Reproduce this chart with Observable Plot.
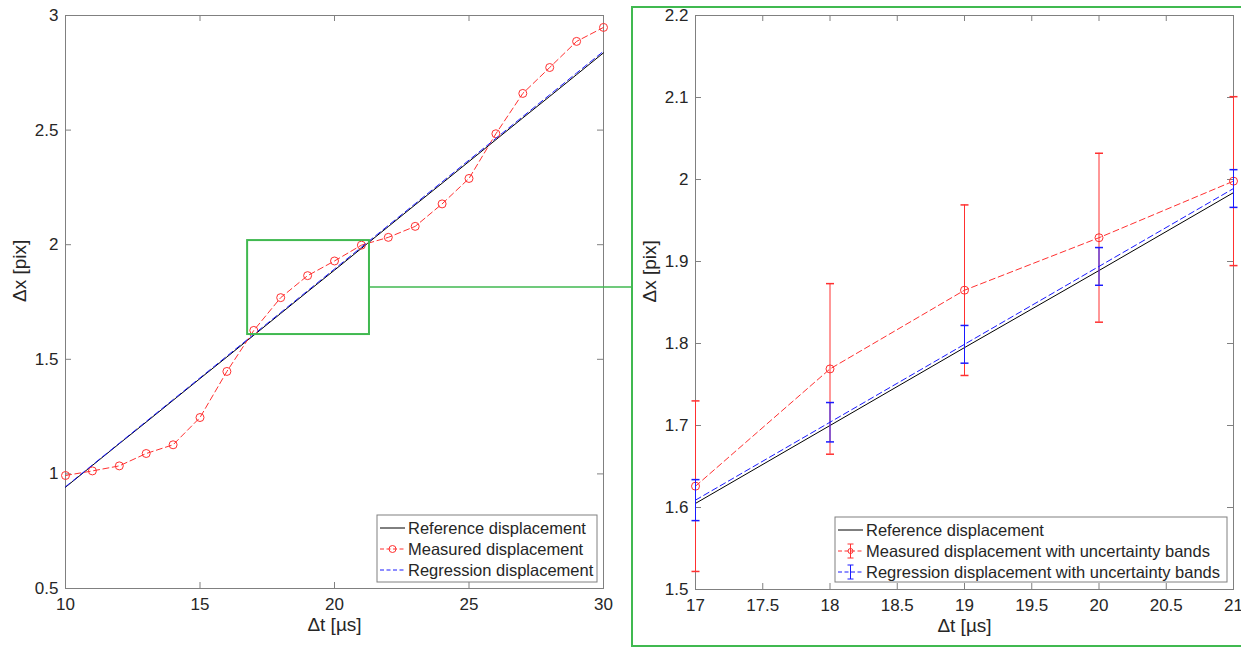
<!DOCTYPE html>
<html><head><meta charset="utf-8">
<script src="https://cdn.jsdelivr.net/npm/d3@7"></script>
<script src="https://cdn.jsdelivr.net/npm/@observablehq/plot@0.6"></script>
<style>
body{margin:0;background:#fff;width:1241px;height:647px;overflow:hidden;position:relative;font-family:"Liberation Sans",Arial,sans-serif;}
#left{position:absolute;left:0;top:0;}
#right{position:absolute;left:631px;top:6px;border:2px solid #40b950;border-right:none;width:610px;height:637px;}
svg{overflow:visible;}
</style></head><body>
<div id="left"></div><div id="right"></div>
<script>
// ---- data ----
const dt = [10,11,12,13,14,15,16,17,18,19,20,21,22,23,24,25,26,27,28,29,30];
const measured = [0.993,1.013,1.035,1.089,1.127,1.246,1.447,1.626,1.769,1.865,1.929,1.998,2.032,2.080,2.178,2.289,2.484,2.660,2.773,2.887,2.948];
const reference = [0.942,1.037,1.132,1.226,1.321,1.416,1.510,1.605,1.700,1.795,1.889,1.984,2.079,2.174,2.268,2.363,2.458,2.553,2.647,2.742,2.837];
const regression = [0.944,1.039,1.134,1.229,1.324,1.419,1.514,1.609,1.704,1.799,1.894,1.989,2.084,2.179,2.274,2.369,2.464,2.559,2.654,2.749,2.844];

const zoomT = [17,18,19,20,21];
const zoomMeasured = [1.626,1.769,1.865,1.929,1.998];
const zoomMeasuredErr = [0.104,0.104,0.104,0.103,0.103];
const zoomReference = [1.605,1.700,1.795,1.889,1.984];
const zoomRegression = [1.609,1.704,1.799,1.894,1.989];
const zoomRegressionErr = [0.025,0.024,0.023,0.023,0.023];

const leftXTicks = [10,15,20,25,30];
const leftYTicks = [0.5,1,1.5,2,2.5,3];
const rightXTicks = [17,17.5,18,18.5,19,19.5,20,20.5,21];
const rightYTicks = [1.5,1.6,1.7,1.8,1.9,2,2.1,2.2];
const zoomBox = [{x1:16.77, x2:21.3, y1:1.608, y2:2.018}];

const legendLeft = ["Reference displacement","Measured displacement","Regression displacement"];
const legendRight = ["Reference displacement","Measured displacement with uncertainty bands","Regression displacement with uncertainty bands"];

// ---- styles ----
const GREEN = "#40b950", RED = "#ff3030", BLUE = "#1a1aff", AX = "#808080", TXT = "#262626";
const FONT = '"Liberation Sans", Arial, sans-serif';
const DASH = "6,3.5";

const full = dt.map((t,i)=>({t, m: measured[i], r: reference[i], g: regression[i]}));
const zoom = zoomT.map((t,i)=>({t, m: zoomMeasured[i], me: zoomMeasuredErr[i], r: zoomReference[i], g: zoomRegression[i], ge: zoomRegressionErr[i]}));

const capSymbol = {draw(ctx, size){ const r = Math.sqrt(size/Math.PI); ctx.moveTo(-r,0); ctx.lineTo(r,0); }};

function frameMarks(xTicks, yTicks, innerW, innerH) {
  const L = 6;
  return [
    Plot.frame({stroke: AX, strokeWidth: 1}),
    Plot.tickX(xTicks, {x: d=>d, insetTop: innerH-L, stroke: AX}),
    Plot.tickX(xTicks, {x: d=>d, insetBottom: innerH-L, stroke: AX}),
    Plot.tickY(yTicks, {y: d=>d, insetRight: innerW-L, stroke: AX}),
    Plot.tickY(yTicks, {y: d=>d, insetLeft: innerW-L, stroke: AX}),
    Plot.axisX(xTicks, {tickSize: 0, tickPadding: 9, tickFormat: d=>String(d), label: null, fontSize: 17}),
    Plot.axisY(yTicks, {tickSize: 0, tickPadding: 7, tickFormat: d=>String(d), label: null, fontSize: 17}),
    Plot.text(["Δt [µs]"], {frameAnchor: "bottom", dy: 42, fontSize: 19, fill: TXT}),
    Plot.text(["Δx [pix]"], {frameAnchor: "left", dx: -46, rotate: -90, fontSize: 19, fill: TXT})
  ];
}

function drawLegend(svg, box, labels, icons) {
  const g = d3.select(svg).append("g")
    .style("font-family", FONT).style("font-size", "16.5px").style("fill", TXT).attr("text-anchor", "start");
  g.append("rect").attr("x", box.x).attr("y", box.y).attr("width", box.w).attr("height", box.h)
    .attr("fill", "#fff").attr("stroke", AX).attr("stroke-width", 1);
  labels.forEach((lab, i) => {
    const cy = box.y + 13 + i*21;
    const x0 = box.x + 3, x1 = box.x + 28, xc = (x0+x1)/2;
    const ic = icons[i];
    g.append("line").attr("x1", x0).attr("x2", x1).attr("y1", cy).attr("y2", cy)
      .attr("stroke", ic.color).attr("stroke-width", 1).attr("stroke-dasharray", ic.dash || null);
    if (ic.err) {
      g.append("line").attr("x1", xc).attr("x2", xc).attr("y1", cy-7).attr("y2", cy+7).attr("stroke", ic.color);
      g.append("line").attr("x1", xc-3).attr("x2", xc+3).attr("y1", cy-7).attr("y2", cy-7).attr("stroke", ic.color);
      g.append("line").attr("x1", xc-3).attr("x2", xc+3).attr("y1", cy+7).attr("y2", cy+7).attr("stroke", ic.color);
    }
    if (ic.circle) {
      g.append("circle").attr("cx", xc).attr("cy", cy).attr("r", ic.circle).attr("fill", "none").attr("stroke", ic.color);
    }
    g.append("text").attr("x", x1 + 3).attr("y", cy).attr("dy", "0.35em")
      .attr("text-anchor", "start").style("fill", TXT).text(lab);
  });
}

// ---- left plot ----
const LW = 632, LH = 647, lm = {l:65, r:29, t:15, b:59};
const left = Plot.plot({
  width: LW, height: LH,
  marginLeft: lm.l, marginRight: lm.r, marginTop: lm.t, marginBottom: lm.b,
  style: {fontFamily: FONT, fontSize: "17px", color: TXT, background: "transparent", overflow: "visible"},
  x: {domain: [10, 30]},
  y: {domain: [0.5, 3]},
  marks: [
    ...frameMarks(leftXTicks, leftYTicks, LW-lm.l-lm.r, LH-lm.t-lm.b),
    Plot.line(full, {x: "t", y: "r", stroke: "#000", strokeWidth: 1}),
    Plot.line(full, {x: "t", y: "m", stroke: RED, strokeWidth: 1, strokeDasharray: DASH}),
    Plot.dot(full, {x: "t", y: "m", r: 4, stroke: RED, fill: "none", strokeWidth: 1}),
    Plot.line(full, {x: "t", y: "g", stroke: BLUE, strokeWidth: 1, strokeDasharray: DASH}),
    Plot.rect(zoomBox, {x1: "x1", x2: "x2", y1: "y1", y2: "y2", fill: "none", stroke: GREEN, strokeWidth: 2})
  ]
});
document.getElementById("left").appendChild(left);
{
  const sx = left.scale("x"), sy = left.scale("y");
  const b = zoomBox[0];
  const ym = sy.apply((b.y1 + b.y2)/2);
  d3.select(left).append("line").attr("x1", sx.apply(b.x2)).attr("x2", LW)
    .attr("y1", ym).attr("y2", ym).attr("stroke", GREEN).attr("stroke-width", 1.6);
}
drawLegend(left, {x: 377, y: 515, w: 220, h: 67}, legendLeft, [
  {color: "#000"},
  {color: RED, dash: "4,2.5", circle: 3.5},
  {color: BLUE, dash: "4,2.5"}
]);

// ---- right plot ----
const RW = 610, RH = 637, rm = {l:62, r:10, t:7, b:56};
const right = Plot.plot({
  width: RW, height: RH,
  marginLeft: rm.l, marginRight: rm.r, marginTop: rm.t, marginBottom: rm.b,
  style: {fontFamily: FONT, fontSize: "17px", color: TXT, background: "transparent", overflow: "visible"},
  x: {domain: [17, 21]},
  y: {domain: [1.5, 2.2]},
  marks: [
    ...frameMarks(rightXTicks, rightYTicks, RW-rm.l-rm.r, RH-rm.t-rm.b),
    Plot.line(zoom, {x: "t", y: "r", stroke: "#000", strokeWidth: 1}),
    Plot.line(zoom, {x: "t", y: "m", stroke: RED, strokeWidth: 1, strokeDasharray: DASH}),
    Plot.ruleX(zoom, {x: "t", y1: d=>d.m-d.me, y2: d=>d.m+d.me, stroke: RED, strokeWidth: 1}),
    Plot.dot(zoom, {x: "t", y: d=>d.m-d.me, symbol: capSymbol, r: 4, stroke: RED, fill: "none"}),
    Plot.dot(zoom, {x: "t", y: d=>d.m+d.me, symbol: capSymbol, r: 4, stroke: RED, fill: "none"}),
    Plot.dot(zoom, {x: "t", y: "m", r: 4, stroke: RED, fill: "none", strokeWidth: 1}),
    Plot.line(zoom, {x: "t", y: "g", stroke: BLUE, strokeWidth: 1, strokeDasharray: DASH}),
    Plot.ruleX(zoom, {x: "t", y1: d=>d.g-d.ge, y2: d=>d.g+d.ge, stroke: BLUE, strokeWidth: 1}),
    Plot.dot(zoom, {x: "t", y: d=>d.g-d.ge, symbol: capSymbol, r: 4, stroke: BLUE, fill: "none"}),
    Plot.dot(zoom, {x: "t", y: d=>d.g+d.ge, symbol: capSymbol, r: 4, stroke: BLUE, fill: "none"})
  ]
});
document.getElementById("right").appendChild(right);
drawLegend(right, {x: 202, y: 509, w: 392, h: 65}, legendRight, [
  {color: "#000"},
  {color: RED, dash: "4,2.5", err: true, circle: 2.5},
  {color: BLUE, dash: "4,2.5", err: true}
]);
</script>
</body></html>
